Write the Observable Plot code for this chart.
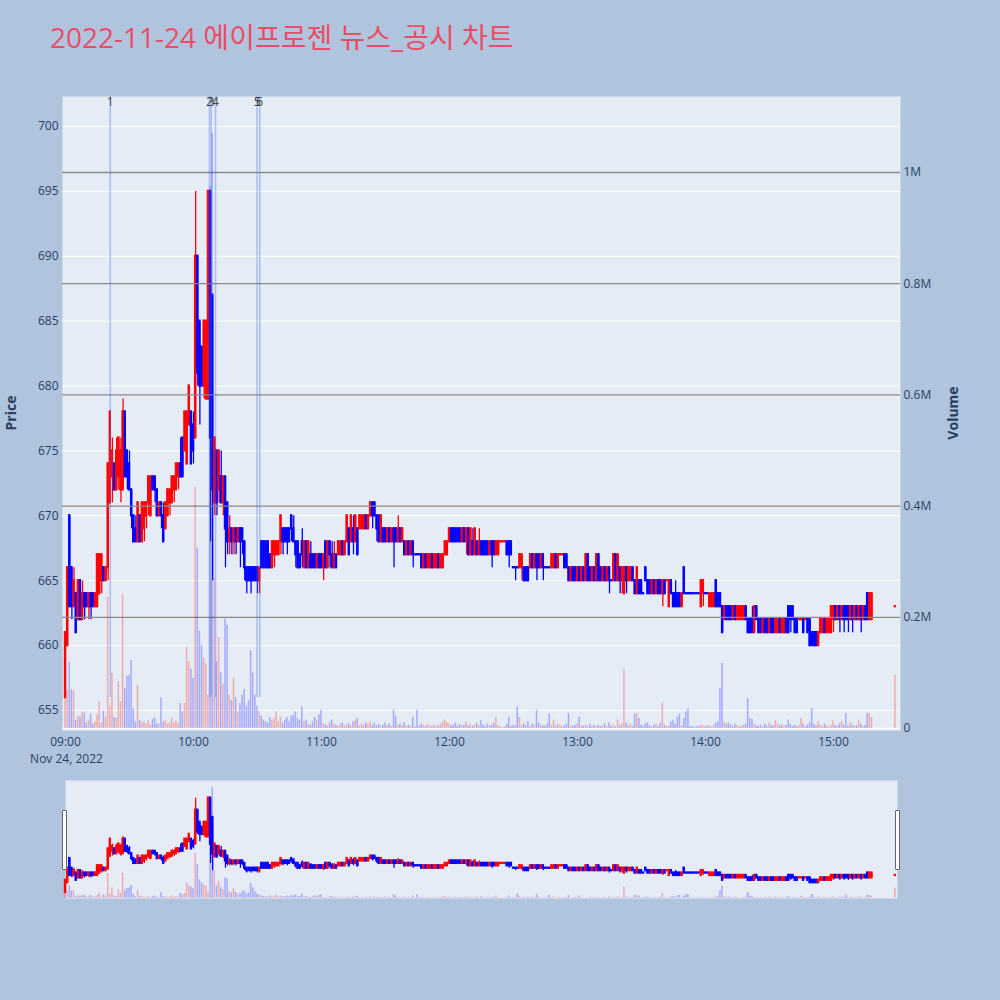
<!DOCTYPE html>
<html><head><meta charset="utf-8">
<script src="https://cdn.jsdelivr.net/npm/d3@7"></script>
<script src="https://cdn.jsdelivr.net/npm/@observablehq/plot@0.6"></script>
<style>
html,body{margin:0;padding:0;background:#B0C4DE;}
#wrap{position:relative;width:1000px;height:1000px;background:#B0C4DE;overflow:hidden;font-family:"Open Sans","Noto Sans CJK KR","Noto Sans",sans-serif;}
.layer{position:absolute;left:0;}
#title{position:absolute;left:50px;top:23px;font-size:28px;line-height:1;color:#EB4D67;white-space:nowrap;font-family:"Open Sans","Noto Sans CJK KR",sans-serif;}
.atitle{position:absolute;font-size:14px;font-weight:bold;color:#2a3f5f;transform:translate(-50%,-50%) rotate(-90deg);white-space:nowrap;}
.handle{position:absolute;width:3px;height:58px;background:#fff;border:1px solid #666;border-radius:1px;}
</style></head>
<body><div id="wrap">
<div id="title">2022-11-24 에이프로젠 뉴스_공시 차트</div>
<div class="atitle" style="left:10px;top:413px;">Price</div>
<div class="atitle" style="left:952px;top:413px;">Volume</div>
</div>
<script>
// ---- data: 1-minute candles from 09:00 (index = minutes after 09:00) ----
const sessionStart = "2022-11-24T09:00:00Z";
const open = [
656,660,670,666,663,664,662,665,662,664, 664,663,664,664,663,663,664,665,666,665,
666,671,673,674,672,673,672,672,678,675, 674,672,670,669,668,670,668,669,670,671,
670,673,673,672,670,671,670,669,670,671, 671,672,672,673,674,676,675,674,677,678,
677,676,690,685,683,680,679,679,695,687, 671,675,672,673,671,673,671,668,669,668,
669,668,669,669,668,666,666,666,666,666, 666,665,668,668,668,668,667,666,667,667,
667,668,669,669,669,669,670,669,668,668, 667,668,666,668,666,667,667,667,666,667,
667,666,668,666,668,667,666,667,667,667, 668,667,668,669,668,669,668,669,669,669,
669,670,669,670,671,671,670,670,668,669, 669,668,669,668,669,669,668,669,668,668,
667,668,667,668,667,667,667,667,666,667, 666,666,667,666,666,667,666,666,667,667,
668,669,669,669,669,669,668,669,668,669, 667,668,667,668,667,668,668,668,668,667,
668,668,667,667,668,668,668,668,668,668, 666,666,666,666,666,666,666,666,666,667,
666,667,667,666,667,666,666,666,666,666, 667,666,667,667,667,667,666,665,666,666,
665,666,665,666,665,667,666,665,666,665, 667,666,665,666,665,666,665,665,667,665,
666,665,664,666,665,665,666,665,664,665, 665,664,666,665,665,664,665,664,665,665,
664,665,665,663,665,664,664,664,664,663, 666,664,664,664,664,664,664,664,663,664,
664,664,663,663,663,665,664,664,663,662, 663,663,663,662,663,662,662,662,662,663,
662,662,662,661,663,662,662,661,662,662, 661,662,662,661,661,662,661,661,662,663,
663,663,662,662,662,662,662,662,662,662, 661,661,661,660,661,661,662,661,661,661,
662,663,662,663,662,663,663,663,662,663, 662,663,662,663,662,663,664,662,662];
const high = [
661,666,670,666,666,664,665,665,665,664, 664,664,664,664,664,667,667,667,666,666,
674,678,676,674,676,676,676,679,678,675, 675,672,670,670,671,670,671,671,671,673,
673,673,673,672,671,671,671,671,672,672, 673,673,674,674,676,676,678,678,680,678,
678,695,690,685,683,685,685,695,695,687, 676,675,675,675,673,673,671,670,669,669,
669,669,669,669,668,666,666,666,666,666, 666,666,668,668,668,668,667,668,668,668,
668,670,669,669,669,669,670,670,668,668, 667,669,668,668,668,668,667,667,667,667,
667,667,668,668,668,668,668,667,668,668, 668,668,670,669,670,670,670,669,670,670,
670,670,670,671,671,671,670,670,670,669, 669,669,669,669,669,669,670,669,669,668,
668,668,668,668,667,667,667,667,667,667, 667,667,667,667,667,667,667,667,668,668,
669,669,669,669,669,669,669,669,669,669, 669,669,669,668,669,668,668,668,668,668,
668,668,668,668,668,668,668,668,668,668, 666,666,666,667,667,666,666,666,667,667,
667,667,667,667,667,666,666,666,667,667, 667,667,667,667,667,667,666,666,666,666,
666,666,666,666,667,667,666,666,666,667, 667,666,666,666,666,666,665,667,667,667,
666,666,666,666,666,666,666,665,666,665, 665,664,666,665,665,665,665,665,665,665,
665,665,665,665,665,664,665,664,664,664, 666,664,664,664,664,664,664,664,665,665,
664,664,664,664,664,665,664,664,663,663, 663,663,663,663,663,663,663,663,663,663,
662,662,663,663,663,662,662,662,662,662, 662,662,662,662,662,662,662,662,662,663,
663,663,662,662,662,662,662,662,662,662, 661,661,661,661,662,662,662,662,662,663,
663,663,663,663,663,663,663,663,663,663, 663,663,663,663,663,663,664,664,664];
const low = [
656,660,663,662,663,661,662,662,662,662, 663,662,662,663,663,663,664,664,665,665,
665,671,671,672,672,672,671,672,673,672, 672,669,668,668,668,668,668,668,669,670,
670,672,671,670,670,669,668,669,670,670, 671,671,672,672,673,673,675,674,677,674,
674,676,680,677,680,679,679,679,668,665, 670,670,671,671,670,666,667,667,667,667,
667,668,666,667,665,664,665,664,665,665, 664,664,666,666,666,666,666,666,666,667,
667,667,667,668,667,668,668,668,666,666, 666,666,666,666,666,666,666,666,666,666,
666,665,666,666,666,666,666,666,667,667, 667,667,668,667,668,667,668,667,669,669,
669,669,669,670,669,670,668,668,668,668, 668,668,668,668,666,668,668,668,668,667,
667,667,667,666,667,667,667,666,666,666, 666,666,666,666,666,666,666,666,667,667,
668,668,668,668,668,668,668,668,667,667, 667,667,667,667,667,667,667,667,667,667,
666,667,667,667,668,668,668,667,666,667, 666,665,666,666,665,665,665,665,666,666,
666,665,666,666,665,666,666,666,666,666, 666,666,667,667,666,666,665,665,665,665,
665,665,665,665,665,665,665,665,665,665, 665,665,665,665,665,664,665,665,665,665,
664,664,664,664,665,665,665,664,664,664, 664,664,665,664,664,664,664,664,664,664,
663,664,665,663,664,663,663,663,663,663, 664,664,664,664,664,664,664,664,663,663,
664,664,663,663,663,663,663,663,661,662, 662,662,662,662,662,662,662,662,662,662,
661,661,661,661,662,661,661,661,661,661, 661,661,661,661,661,661,661,661,661,661,
661,662,661,661,662,662,661,662,661,660, 660,660,660,660,661,661,661,661,661,661,
661,662,662,661,662,661,662,661,662,661, 662,662,662,661,662,662,662,662,662];
const close = [
661,666,663,663,665,661,665,662,664,663, 663,664,663,663,664,667,667,667,665,666,
674,678,675,672,675,676,675,678,673,673, 672,670,668,668,671,668,671,671,671,673,
673,672,672,670,671,670,668,671,672,672, 673,673,674,674,673,673,678,678,680,674,
675,690,681,680,680,685,685,695,676,672, 676,671,675,671,673,669,668,669,668,669,
668,669,668,668,666,665,665,665,665,665, 665,666,666,666,666,666,666,668,668,668,
668,670,668,668,668,668,669,668,667,666, 666,667,668,666,668,666,666,666,667,666,
666,667,666,668,667,666,667,666,668,668, 667,668,670,667,670,668,670,667,670,670,
670,669,670,671,670,670,669,668,670,668, 668,669,668,669,668,668,669,668,669,667,
668,667,668,667,667,667,667,666,667,666, 667,667,666,667,667,666,667,667,668,668,
669,668,668,668,668,668,669,668,669,667, 669,667,669,667,668,667,667,667,667,668,
667,667,668,668,668,668,668,667,667,667, 666,666,666,667,667,665,665,665,667,666,
667,666,666,667,666,666,666,666,667,667, 666,667,667,667,666,666,665,666,665,665,
666,665,666,665,667,665,665,666,665,667, 665,665,666,665,666,665,665,667,665,667,
665,666,666,665,666,666,665,664,666,664, 664,664,665,664,664,665,664,665,664,664,
665,664,665,665,664,663,663,663,663,664, 664,664,664,664,664,664,664,664,665,665,
664,664,664,664,664,663,663,663,661,663, 662,662,662,663,662,663,663,663,663,662,
661,661,661,663,662,661,661,662,661,661, 662,661,661,662,662,661,662,662,661,661,
662,662,661,661,662,662,661,662,661,660, 660,660,660,661,662,662,661,662,662,663,
663,662,663,662,663,662,662,662,663,662, 663,662,663,662,663,662,662,664,664];
// volume in thousands of shares
const volumeK = [
54,68,119,70,68,15,22,20,30,28, 10,14,26,8,12,24,48,10,31,20,
236,40,99,20,18,84,48,241,72,94, 96,122,35,12,78,14,10,12,8,14,
6,16,19,9,8,55,12,14,8,10, 19,10,14,9,45,30,45,146,120,107,
90,434,324,175,150,127,116,60,975,1070, 270,120,164,100,80,197,186,60,50,90,
55,30,45,60,70,40,50,140,100,60, 40,30,22,15,12,10,20,15,18,30,
12,20,10,15,20,12,22,24,30,18, 15,39,12,15,8,6,12,20,14,25,
33,8,6,5,10,15,8,6,4,8, 10,5,6,9,4,12,15,18,5,8,
6,10,8,12,6,10,5,8,4,6, 10,5,8,4,33,22,6,8,5,10,
4,6,5,20,3,33,5,8,6,4, 8,5,3,6,4,5,8,12,15,10,
8,5,6,10,4,7,5,6,12,5, 8,4,6,9,5,14,6,4,8,5,
6,10,20,5,3,2,3,8,20,4, 6,5,39,20,6,8,5,12,4,8,
6,33,10,6,5,4,8,26,6,15, 4,8,6,3,5,8,27,5,4,6,
8,20,5,4,6,3,8,4,5,3, 6,4,5,8,3,10,4,6,3,15,
5,8,106,10,6,8,4,26,27,18, 6,4,8,10,5,3,6,8,4,9,
46,6,4,5,12,15,8,20,26,5, 18,30,35,4,3,2,3,4,6,5,
3,4,5,3,6,10,12,72,117,12, 8,10,6,4,8,5,3,4,6,8,
54,18,16,8,5,4,6,3,8,4, 10,6,5,14,8,5,7,4,6,15,
8,4,6,3,5,18,8,4,6,10, 36,8,5,12,6,4,8,5,3,6,
14,5,4,8,12,6,27,4,10,6, 4,5,15,8,4,6,27,27,20];
// closing auction (shown red in the reference)
const auctionTime = "2022-11-24T15:29:00Z";
const auctionOHLC = [663, 663, 663, 663];
const auctionVolumeK = 96;
const auctionDir = "up";
// news / disclosure markers
const newsLabels = ["1", "2", "3", "4", "5", "6"];
const newsTimes = ["09:21:00", "10:07:30", "10:08:20", "10:10:20", "10:29:50", "10:31:05"];
// axis ticks
const priceTicks = [655, 660, 665, 670, 675, 680, 685, 690, 695, 700];
const volumeTicks = [0, 200000, 400000, 600000, 800000, 1000000];
const hourTicks = ["09:00", "10:00", "11:00", "12:00", "13:00", "14:00", "15:00"];
const dateLabel = "Nov 24, 2022";

// ---- build table ----
const MIN = 60000;
const t0 = new Date(sessionStart);
const candles = open.map((o, i) => ({time: new Date(+t0 + i * MIN), open: o, high: high[i], low: low[i], close: close[i], volume: volumeK[i] * 1000}));
let prevDir = "up", prevClose = null;
for (const d of candles) {
  let dir;
  if (d.close > d.open) dir = "up";
  else if (d.close < d.open) dir = "down";
  else if (prevClose != null && d.close > prevClose) dir = "up";
  else if (prevClose != null && d.close < prevClose) dir = "down";
  else dir = prevDir;
  d.dir = dir; prevDir = dir; prevClose = d.close;
}
candles.push({time: new Date(auctionTime), open: auctionOHLC[0], high: auctionOHLC[1], low: auctionOHLC[2], close: auctionOHLC[3], volume: auctionVolumeK * 1000, dir: auctionDir});
const news = newsLabels.map((l, i) => ({label: l, time: new Date("2022-11-24T" + newsTimes[i] + "Z")}));
const minLow = d3.min(candles, d => d.low);

const priceDomain = [653.46, 702.31];
const volDomain = [-3600, 1136700];
const xMain = [new Date(+t0 - 1.4 * MIN), new Date(+t0 + 391.4 * MIN)];
const xSlider = [t0, new Date(+t0 + 390 * MIN)];
const dirColor = {domain: ["up", "down"], range: ["#ff0000", "#0000ff"]};
const font = '"Open Sans","Noto Sans","DejaVu Sans",sans-serif';
const hx = hourTicks.map(h => new Date("2022-11-24T" + h + ":00Z"));
const fmtHM = d3.utcFormat("%H:%M");
const lo = d => new Date(+d.time - 0.3 * MIN), hi = d => new Date(+d.time + 0.3 * MIN);
const vlo = d => new Date(+d.time - 0.35 * MIN), vhi = d => new Date(+d.time + 0.35 * MIN);

const wrap = document.getElementById("wrap");
function place(svg, top) { svg.classList.add("layer"); svg.style.top = top + "px"; wrap.appendChild(svg); }

const mainBox = {width: 1000, height: 780, marginLeft: 62, marginRight: 100, marginTop: 96, marginBottom: 50};
const style = {background: "transparent", fontFamily: font, fontSize: "12px", color: "#2a3f5f", overflow: "visible"};

function candleMarks() {
  return [
    Plot.ruleX(candles, {x: "time", y1: "low", y2: "high", stroke: "dir", strokeWidth: 1.3}),
    Plot.rect(candles, {x1: lo, x2: hi, y1: "open", y2: "close", fill: "dir", stroke: "dir", strokeWidth: 1.1, insetTop: -0.6, insetBottom: -0.6})
  ];
}

// Layer A: price
place(Plot.plot({
  ...mainBox, style,
  x: {type: "utc", domain: xMain, ticks: hx, tickFormat: fmtHM, tickSize: 0, tickPadding: 7, label: null},
  y: {domain: priceDomain, ticks: priceTicks, tickSize: 0, tickPadding: 4, label: null},
  color: dirColor,
  marks: [
    Plot.frame({fill: "#E5ECF6", stroke: "none"}),
    Plot.ruleY(priceTicks, {stroke: "#ffffff", strokeWidth: 1}),
    ...candleMarks(),
    Plot.text([dateLabel], {x: () => t0, text: d => d, frameAnchor: "bottom", lineAnchor: "middle", dy: 29, dx: 1, fill: "#2a3f5f", fontSize: 12})
  ]
}), 0);

// Layer B: volume
place(Plot.plot({
  ...mainBox, style,
  x: {type: "utc", domain: xMain, axis: null},
  y: {domain: volDomain, ticks: volumeTicks, axis: "right", tickSize: 0, tickPadding: 3, label: null,
      tickFormat: v => v === 0 ? "0" : d3.format("~g")(v / 1e6) + "M"},
  color: dirColor,
  marks: [
    Plot.ruleY(volumeTicks.filter(v => v > 0), {stroke: "#8a8a8a", strokeWidth: 1.3}),
    Plot.ruleY([0], {stroke: "#ffffff", strokeWidth: 1.5}),
    Plot.rect(candles, {x1: vlo, x2: vhi, y1: 0, y2: "volume", fill: "dir", fillOpacity: 0.28})
  ]
}), 0);

// Layer C: news markers
place(Plot.plot({
  ...mainBox, style,
  x: {type: "utc", domain: xMain, axis: null},
  y: {domain: priceDomain, axis: null},
  marks: [
    Plot.ruleX(news, {x: "time", y1: minLow, y2: priceDomain[1], stroke: "#4169e1", strokeOpacity: 0.35, strokeWidth: 1.6}),
    Plot.text(news, {x: "time", text: "label", frameAnchor: "top", dy: 1, fill: "#444", fontSize: 12})
  ]
}), 0);

// Range slider
const sliderBox = {width: 1000, height: 118, marginLeft: 65, marginRight: 103, marginTop: 0, marginBottom: 0};
place(Plot.plot({
  ...sliderBox, style,
  x: {type: "utc", domain: xSlider, axis: null},
  y: {domain: priceDomain, axis: null},
  color: dirColor,
  marks: [Plot.frame({fill: "#E5ECF6", stroke: "none"}), ...candleMarks()]
}), 780);
place(Plot.plot({
  ...sliderBox, style,
  x: {type: "utc", domain: xSlider, axis: null},
  y: {domain: volDomain, axis: null},
  color: dirColor,
  marks: [Plot.rect(candles, {x1: vlo, x2: vhi, y1: 0, y2: "volume", fill: "dir", fillOpacity: 0.28})]
}), 780);

// slider handles
for (const left of [62, 895]) {
  const h = document.createElement("div");
  h.className = "handle"; h.style.left = left + "px"; h.style.top = "810px";
  wrap.appendChild(h);
}
</script>
</body></html>
